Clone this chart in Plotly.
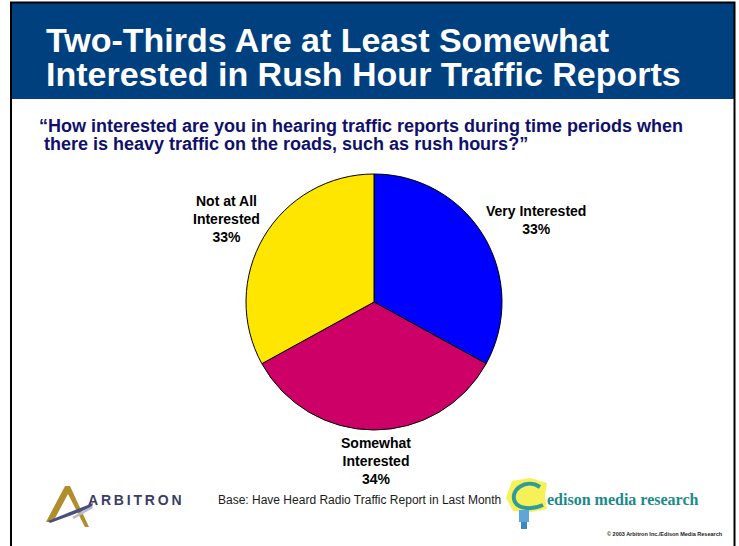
import plotly.graph_objects as go

W, H = 739, 546

# survey answers, clockwise from 12 o'clock
labels = ["Very Interested", "Somewhat Interested", "Not at All Interested"]
label_lines = ["Very Interested", "Somewhat<br>Interested", "Not at All<br>Interested"]
values = [33, 34, 33]
colors = ["#0000FF", "#CC0066", "#FFE600"]

title_lines = ["Two-Thirds Are at Least Somewhat", "Interested in Rush Hour Traffic Reports"]
question_lines = [
    "\u201cHow interested are you in hearing traffic reports during time periods when",
    " there is heavy traffic on the roads, such as rush hours?\u201d",
]
base_note = "Base: Have Heard Radio Traffic Report in Last Month"
copyright_note = "\u00a9 2003 Arbitron Inc./Edison Media Research"


def px(x):
    return x / W


def py(y):
    return 1 - y / H


def path(points, close=True):
    d = "M " + " L ".join(f"{px(x):.4f},{py(y):.4f}" for x, y in points)
    return d + (" Z" if close else "")


# pie centre (374, 302), radius 128
cx, cy, r = 374, 302, 128

fig = go.Figure()

fig.add_trace(
    go.Pie(
        labels=labels,
        values=values,
        sort=False,
        direction="clockwise",
        rotation=0,
        marker=dict(colors=colors, line=dict(color="black", width=1)),
        textinfo="none",
        hoverinfo="label+percent",
        showlegend=False,
        domain=dict(x=[px(cx - r), px(cx + r)], y=[py(cy + r), py(cy - r)]),
    )
)

shapes = [
    # header banner
    dict(type="rect", xref="paper", yref="paper", x0=px(11), x1=px(734), y0=py(99), y1=py(2.5),
         fillcolor="#00407F", line=dict(width=0), layer="below"),
    # frame
    dict(type="rect", xref="paper", yref="paper", x0=px(11), x1=px(734.5), y0=py(560), y1=py(2.5),
         fillcolor="rgba(0,0,0,0)", line=dict(color="black", width=2)),
    # arbitron mark
    dict(type="path", xref="paper", yref="paper",
         path=path([(65, 486), (70, 486), (89, 527), (85, 527), (68, 494), (53, 522), (46, 522)]),
         fillcolor="#B08E2C", line=dict(width=0)),
    dict(type="path", xref="paper", yref="paper",
         path=path([(48, 521), (70, 512), (93, 503), (92, 507), (72, 515), (50, 523)]),
         fillcolor="#4A4F82", line=dict(width=0)),
    dict(type="path", xref="paper", yref="paper",
         path=path([(72, 517), (92, 506), (93, 508), (74, 519)]),
         fillcolor="#B9BCCB", line=dict(width=0)),
    # edison bulb
    dict(type="path", xref="paper", yref="paper",
         path=path([(512, 481), (530, 478), (547, 483), (545, 496), (547, 509), (532, 512), (513, 511), (506, 498)]),
         fillcolor="rgba(245,238,60,0.85)", line=dict(width=0)),
    dict(type="path", xref="paper", yref="paper",
         path=f"M {px(540):.4f},{py(487):.4f} C {px(526):.4f},{py(478):.4f} {px(509):.4f},{py(490):.4f} "
              f"{px(515):.4f},{py(502):.4f} C {px(519):.4f},{py(509):.4f} {px(532):.4f},{py(510):.4f} "
              f"{px(543):.4f},{py(505):.4f}",
         line=dict(color="#2E9C9C", width=4)),
    dict(type="rect", xref="paper", yref="paper", x0=px(519), x1=px(529), y0=py(522), y1=py(510),
         fillcolor="#5FA6D6", line=dict(width=0)),
    dict(type="rect", xref="paper", yref="paper", x0=px(521), x1=px(527), y0=py(529), y1=py(522),
         fillcolor="#3D86C0", line=dict(width=0)),
]

annotations = []
for i, line in enumerate(title_lines):
    annotations.append(dict(
        x=px(44), y=py(40 + 34 * i), xref="paper", yref="paper", xanchor="left", yanchor="middle",
        text=f"<b>{line}</b>", showarrow=False,
        font=dict(family="Liberation Sans, Arial", size=34, color="white"),
    ))
for i, line in enumerate(question_lines):
    annotations.append(dict(
        x=px(37), y=py(126 + 18 * i), xref="paper", yref="paper", xanchor="left", yanchor="middle",
        text=f"<b>{line}</b>", showarrow=False,
        font=dict(family="Liberation Sans, Arial", size=18, color="#10106A"),
    ))

label_pos = [(536, 220), (376, 461), (226, 219)]
for (x, y), name, v in zip(label_pos, label_lines, values):
    annotations.append(dict(
        x=px(x), y=py(y), xref="paper", yref="paper", xanchor="center", yanchor="middle",
        text=f"<b>{name}<br>{v}%</b>", showarrow=False, align="center",
        font=dict(family="Liberation Sans, Arial", size=14, color="black"),
    ))

annotations += [
    dict(x=px(359), y=py(500), xref="paper", yref="paper", xanchor="center", yanchor="middle",
         text=base_note, showarrow=False,
         font=dict(family="Liberation Sans, Arial", size=12, color="#1A1A1A")),
    dict(x=px(725), y=py(534), xref="paper", yref="paper", xanchor="right", yanchor="middle",
         text=f"<b>{copyright_note}</b>", showarrow=False,
         font=dict(family="Liberation Sans, Arial", size=5.5, color="#1A1A1A")),
    dict(x=px(86), y=py(500), xref="paper", yref="paper", xanchor="left", yanchor="middle",
         text="<b>A\u2009R\u2009B\u2009I\u2009T\u2009R\u2009O\u2009N</b>", showarrow=False,
         font=dict(family="Liberation Sans, Arial", size=14, color="#3A3D66")),
    dict(x=px(545), y=py(499), xref="paper", yref="paper", xanchor="left", yanchor="middle",
         text="<b>edison media research</b>", showarrow=False,
         font=dict(family="Liberation Serif, Times New Roman", size=16, color="#1A8A8A")),
]

fig.update_layout(
    width=W,
    height=H,
    margin=dict(l=0, r=0, t=0, b=0),
    paper_bgcolor="white",
    plot_bgcolor="white",
    shapes=shapes,
    annotations=annotations,
)

# page body has an 8px default margin; drop it so the figure fills the window
fig.write_html(
    "out.html",
    config={"displayModeBar": False},
    post_script="document.body.style.margin = '0';",
)
